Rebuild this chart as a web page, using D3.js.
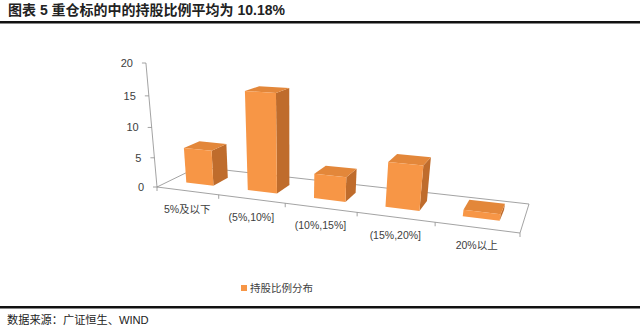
<!DOCTYPE html>
<html><head><meta charset="utf-8">
<script src="https://cdn.jsdelivr.net/npm/d3@7"></script>
<style>
html,body{margin:0;padding:0;background:#fff;}
svg{display:block;}
</style></head>
<body>
<svg id="chart" width="640" height="332"></svg>
<script>
// ---- data ----
const categories = ["5%及以下", "(5%,10%]", "(10%,15%]", "(15%,20%]", "20%以上"];
const values = [6, 16, 4, 7, 1];
const yTicks = [0, 5, 10, 15, 20];
const seriesName = "持股比例分布";
const title = "图表 5 重仓标的中的持股比例平均为 10.18%";
const source = "数据来源：广证恒生、WIND";

// ---- projection setup (3D perspective floor) ----
const floorCorners = [ // [u,w] -> screen
  [[0,0],[157,187]], [[1,0],[520,233]], [[0,1],[198,167]], [[1,1],[529,204]]
];
const vertVP = [292, 1700];
const axisTop = [145, 63];

function solve(A, b){
  const n=b.length; A=A.map((r,i)=>r.concat([b[i]]));
  for(let i=0;i<n;i++){
    let m=i; for(let k=i+1;k<n;k++) if(Math.abs(A[k][i])>Math.abs(A[m][i])) m=k;
    [A[i],A[m]]=[A[m],A[i]];
    for(let k=i+1;k<n;k++){const f=A[k][i]/A[i][i]; for(let j=i;j<=n;j++) A[k][j]-=f*A[i][j];}
  }
  const x=new Array(n).fill(0);
  for(let i=n-1;i>=0;i--){let s=A[i][n]; for(let j=i+1;j<n;j++) s-=A[i][j]*x[j]; x[i]=s/A[i][i];}
  return x;
}
const A=[],B=[];
floorCorners.forEach(([[x,y],[X,Y]])=>{
  A.push([x,y,1,0,0,0,-x*X,-y*X]); B.push(X);
  A.push([0,0,0,x,y,1,-x*Y,-y*Y]); B.push(Y);
});
const H = solve(A,B);
const lam = (axisTop[1]-H[5])/(vertVP[1]-axisTop[1]);
function proj(u,h,w){
  const X=H[0]*u+H[1]*w+H[2]+lam*vertVP[0]*h;
  const Y=H[3]*u+H[4]*w+H[5]+lam*vertVP[1]*h;
  const Z=H[6]*u+H[7]*w+1+lam*h;
  return [X/Z, Y/Z];
}

// ---- scales ----
const xScale = d3.scaleBand().domain(categories).range([0,1]).paddingInner(0.55).paddingOuter(0.275);
const yScale = d3.scaleLinear().domain([0,20]).range([0,1]);
const barW0 = 0.3, barW1 = 0.68;

const svg = d3.select("#chart");
const font = "'Liberation Sans','Noto Sans CJK SC',sans-serif";
const axisColor = "#8c8c8c";
const line = d3.line();

// header
svg.append("text").attr("x",8).attr("y",15).attr("font-family",font)
  .attr("font-weight","bold").attr("font-size",14).attr("fill","#222").text(title);
svg.append("rect").attr("x",0).attr("y",21).attr("width",640).attr("height",2.5).attr("fill","#111");
svg.append("rect").attr("x",0).attr("y",306).attr("width",640).attr("height",2.5).attr("fill","#111");
svg.append("text").attr("x",7).attr("y",324).attr("font-family",font)
  .attr("font-size",11.2).attr("fill","#222").text(source);

// floor outline
const g = svg.append("g");
const floorPts = [[0,0],[1,0],[1,1],[0,1]].map(([u,w])=>proj(u,0,w));
g.append("path").attr("d", line(floorPts)+"Z").attr("fill","none").attr("stroke",axisColor).attr("stroke-width",0.8);

// y axis
g.append("path").attr("d", line([proj(0,0,0), proj(0,1,0)])).attr("stroke",axisColor).attr("stroke-width",0.8);
yTicks.forEach(t=>{
  const p = proj(0, yScale(t), 0);
  g.append("line").attr("x1",p[0]-4).attr("x2",p[0]).attr("y1",p[1]).attr("y2",p[1]).attr("stroke",axisColor).attr("stroke-width",0.8);
  g.append("text").attr("x",p[0]-13).attr("y",p[1]).attr("dy","0.35em").attr("text-anchor","end")
    .attr("font-family",font).attr("font-size",11).attr("fill","#404040").text(t);
});

// x ticks & labels
const bounds = [0].concat(categories.map(c=>xScale(c)+xScale.bandwidth()/2+xScale.step()/2));
bounds.forEach(u=>{
  const p = proj(u,0,0);
  g.append("line").attr("x1",p[0]).attr("x2",p[0]).attr("y1",p[1]).attr("y2",p[1]+4).attr("stroke",axisColor).attr("stroke-width",0.8);
});
categories.forEach(c=>{
  const p = proj(xScale(c)+xScale.bandwidth()/2,0,0);
  g.append("text").attr("x",p[0]).attr("y",p[1]+18).attr("dy","0.35em").attr("text-anchor","middle")
    .attr("font-family",font).attr("font-size",10.5).attr("fill","#404040").text(c);
});

// bars
const cFront="#F79646", cTop="#E3873A", cSide="#BF6C2C";
categories.forEach((c,i)=>{
  const u0=xScale(c), u1=u0+xScale.bandwidth(), h=yScale(values[i]);
  const front=[proj(u0,0,barW0),proj(u1,0,barW0),proj(u1,h,barW0),proj(u0,h,barW0)];
  const top=[proj(u0,h,barW0),proj(u1,h,barW0),proj(u1,h,barW1),proj(u0,h,barW1)];
  const side=[proj(u1,0,barW0),proj(u1,0,barW1),proj(u1,h,barW1),proj(u1,h,barW0)];
  g.append("path").attr("d",line(side)+"Z").attr("fill",cSide);
  g.append("path").attr("d",line(top)+"Z").attr("fill",cTop);
  g.append("path").attr("d",line(front)+"Z").attr("fill",cFront);
});

// legend
const lg = svg.append("g").attr("transform","translate(241,285)");
lg.append("rect").attr("width",6).attr("height",6).attr("fill",cFront);
lg.append("text").attr("x",9).attr("y",3).attr("dy","0.35em").attr("font-family",font)
  .attr("font-size",10.5).attr("fill","#404040").text(seriesName);
</script>
</body></html>
